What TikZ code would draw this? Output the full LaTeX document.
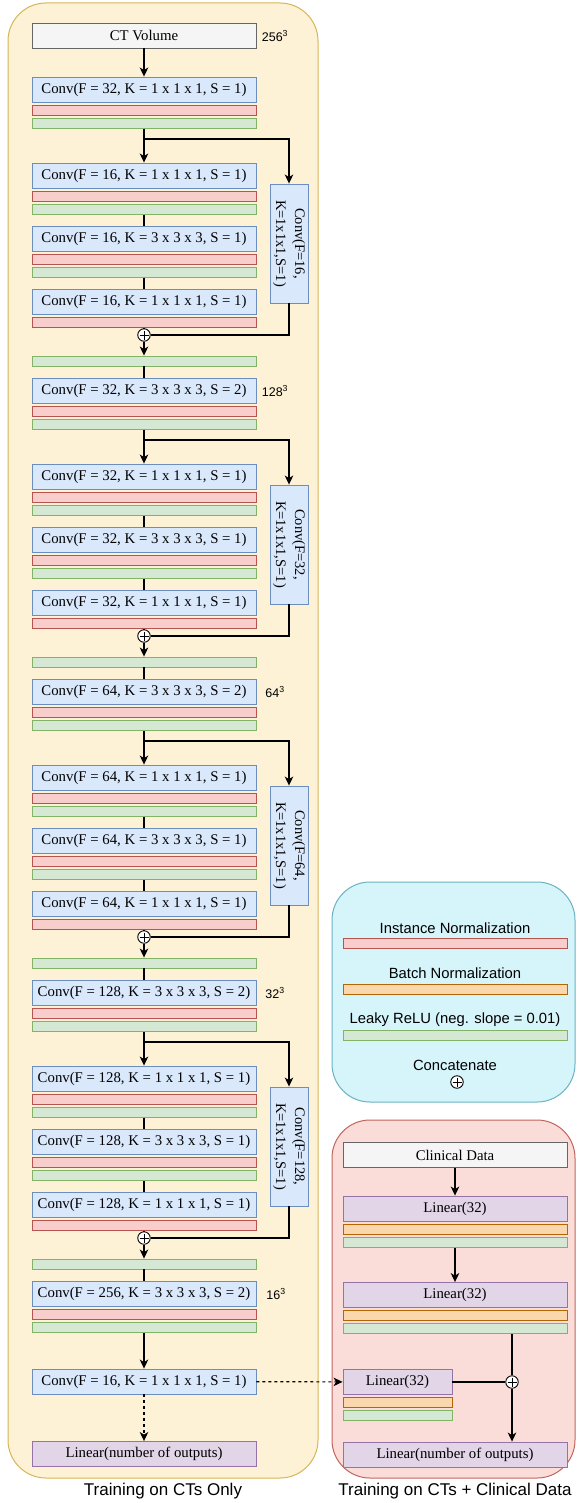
\documentclass[tikz,border=0pt]{standalone}
\usepackage{fontspec}
\setmainfont{Liberation Serif}
\setsansfont{Liberation Sans}
\usetikzlibrary{arrows.meta,positioning}
\definecolor{convfill}{HTML}{DAE8FC}
\definecolor{convline}{HTML}{6C8EBF}
\definecolor{infill}{HTML}{F8CECC}
\definecolor{inline}{HTML}{B85450}
\definecolor{relufill}{HTML}{D5E8D4}
\definecolor{reluline}{HTML}{82B366}
\definecolor{bnfill}{HTML}{FAD7AC}
\definecolor{bnline}{HTML}{B46504}
\definecolor{linfill}{HTML}{E1D5E7}
\definecolor{linline}{HTML}{9673A6}
\definecolor{datafill}{HTML}{F5F5F5}
\definecolor{dataline}{HTML}{666666}
\definecolor{ctfill}{HTML}{FDF2D5}
\definecolor{ctline}{HTML}{D6B656}
\definecolor{legfill}{HTML}{D5F5FB}
\definecolor{legline}{HTML}{6BB3C1}
\definecolor{clinfill}{HTML}{FADCD8}
\definecolor{clinline}{HTML}{C2655D}
\tikzset{
  basic/.style  = {draw, rectangle, line width=0.9pt, inner sep=0pt, minimum width=224pt,
  minimum height=25pt, font=\fontsize{14.8}{17}\selectfont},
  conv/.style = {basic, fill=convfill, draw=convline},
  lin/.style = {basic, fill=linfill, draw=linline},
  inbox/.style = {basic, fill=datafill, draw=dataline},
  inorm/.style = {basic, minimum height=10pt, fill=infill, draw=inline},
  bnorm/.style = {basic, minimum height=10pt, fill=bnfill, draw=bnline},
  relu/.style = {basic, minimum height=10pt, fill=relufill, draw=reluline},
  skip/.style = {conv, rotate=-90, minimum width=119pt, minimum height=38pt, align=center,
  font=\fontsize{14.5}{19}\selectfont},
  concat/.style = {circle, draw, fill=white, line width=0.9pt, minimum size=12.5pt, inner sep=0pt,
  path picture={\draw[line width=0.8pt]
    ([xshift=-4.5pt]path picture bounding box.center) -- ([xshift=4.5pt]path picture bounding box.center)
    ([yshift=-4.5pt]path picture bounding box.center) -- ([yshift=4.5pt]path picture bounding box.center);}},
  size/.style = {font=\sffamily\fontsize{12.5}{14}\selectfont},
  legend/.style = {font=\sffamily\fontsize{14.8}{17}\selectfont},
  caption/.style = {font=\sffamily\fontsize{17}{20}\selectfont},
  link/.style = {line width=1.2pt},
  flow/.style = {link, -{Stealth[length=9pt,width=8.5pt,inset=2.5pt]}},
  panel/.style = {line width=1pt, rounded corners=38pt}
}

\begin{document}
\begin{tikzpicture}[x=1pt, y=-1pt]
\useasboundingbox (0,0) rectangle (576,1503);
% background panels
\filldraw [panel, fill=ctfill, draw=ctline] (8,3) rectangle (318,1478);
\filldraw [panel, fill=legfill, draw=legline] (332,882) rectangle (575,1102);
\filldraw [panel, fill=clinfill, draw=clinline] (332,1120) rectangle (575,1478);
% input and the strided convolutions
\node [inbox] (ct) at (144,35.5) {CT Volume};
\foreach \i/\nf/\nk/\ns in {1/32/1/1, 2/32/3/2, 3/64/3/2, 4/128/3/2, 5/256/3/2} {
  \node [conv] (e\i) at (144,{89.5+301*(\i-1)}) {Conv(F = \nf, K = \nk{} x \nk{} x \nk, S = \ns)};
  \node [inorm, below=2.5pt of e\i] (er\i) {};
  \node [relu, below=2pt of er\i] (eg\i) {};
}
% volume sizes
\node [size] (s0) at (275,36) {256\textsuperscript{3}};
\node [size] (s1) at (275,391) {128\textsuperscript{3}};
\node [size] (s2) at (275,692) {64\textsuperscript{3}};
\node [size] (s3) at (275,993) {32\textsuperscript{3}};
\node [size] (s4) at (276,1294) {16\textsuperscript{3}};
% residual blocks
\foreach \i/\nf in {1/16, 2/32, 3/64, 4/128} {
  \pgfmathsetmacro{\t}{77+301*(\i-1)}
  \coordinate (j\i) at (144,\t+62);
  \node [conv] (a\i) at (144,\t+98.5) {Conv(F = \nf, K = 1 x 1 x 1, S = 1)};
  \node [inorm, below=2.5pt of a\i] (ar\i) {};
  \node [relu, below=2pt of ar\i] (ag\i) {};
  \node [conv] (b\i) at (144,\t+161.5) {Conv(F = \nf, K = 3 x 3 x 3, S = 1)};
  \node [inorm, below=2.5pt of b\i] (br\i) {};
  \node [relu, below=2pt of br\i] (bg\i) {};
  \node [conv] (c\i) at (144,\t+224.5) {Conv(F = \nf, K = 1 x 1 x 1, S = 1)};
  \node [inorm, below=2.5pt of c\i] (cr\i) {};
  \node [concat] (p\i) at (144,\t+258) {};
  \node [relu] (pg\i) at (144,\t+284) {};
  % shortcut convolution, text runs top to bottom
  \node [skip] (k\i) at (289,\t+166.5) {Conv(F=\nf,\\K=1x1x1,S=1)};
}
% head of the CT network
\node [conv] (f1) at (144,1381.5) {Conv(F = 16, K = 1 x 1 x 1, S = 1)};
\node [lin] (out1) at (144,1454) {Linear(number of outputs)};
\node [caption] (cap1) at (163,1491) {Training on CTs Only};
% legend
\node [legend] (t1) at (455,928) {Instance Normalization};
\node [inorm] (lg1) at (455,943) {};
\node [legend] (t2) at (455,973) {Batch Normalization};
\node [bnorm] (lg2) at (455,989.5) {};
\node [legend] (t3) at (455,1020) {Leaky ReLU (neg. slope = 0.01)};
\node [relu] (lg3) at (455,1035) {};
\node [legend] (t4) at (455,1065) {Concatenate};
\node [concat] (p6) at (457,1082) {};
% clinical branch
\node [inbox] (cd) at (455,1155) {Clinical Data};
\node [lin] (l1) at (455,1208.5) {Linear(32)};
\node [bnorm, below=2.5pt of l1] (l1b) {};
\node [relu, below=2pt of l1b] (l1g) {};
\node [lin] (l2) at (455,1295) {Linear(32)};
\node [bnorm, below=2.5pt of l2] (l2b) {};
\node [relu, below=2pt of l2b] (l2g) {};
\node [lin, minimum width=109pt] (l3) at (397.5,1382) {Linear(32)};
\node [bnorm, minimum width=109pt, below=2.5pt of l3] (l3b) {};
\node [relu, minimum width=109pt, below=2pt of l3b] (l3g) {};
\node [concat] (p5) at (512,1382) {};
\node [lin] (out2) at (455,1454.5) {Linear(number of outputs)};
\node [caption] (cap2) at (455,1491) {Training on CTs + Clinical Data};
% main column
\draw [flow] (ct) -- (e1);
\foreach \i in {1,...,4} {
  \pgfmathtruncatemacro{\nxt}{\i+1}
  \draw [flow] (eg\i) -- (a\i);
  \draw [link] (ag\i) -- (b\i);
  \draw [link] (bg\i) -- (c\i);
  \draw [link] (cr\i) -- (p\i);
  \draw [flow] (j\i) -| (k\i); % to shortcut
  \draw [link] (k\i) |- (p\i); % back to the sum
  \draw [flow] (p\i) -- (pg\i);
  \draw [link] (pg\i) -- (e\nxt);
}
\draw [flow] (eg5) -- (f1);
\draw [flow, dashed] (f1) -- (out1);
\draw [flow, dashed] (f1) -- (l3); % features to the clinical branch
% lines of the clinical branch
\draw [flow] (cd) -- (l1);
\draw [flow] (l1g) -- (l2);
\draw [link] (p5 |- l2g.south) -- (p5);
\draw [link] (l3) -- (p5);
\draw [flow] (p5) -- (p5 |- out2.north);
\end{tikzpicture}
\end{document}
